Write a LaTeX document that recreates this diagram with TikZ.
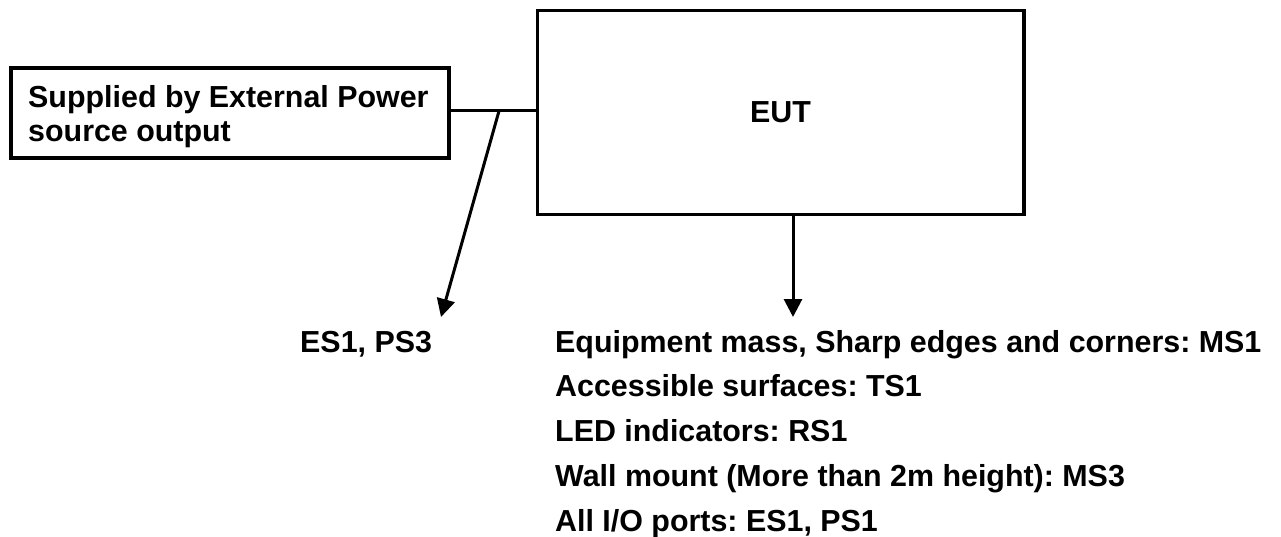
\documentclass[tikz,border=0pt]{standalone}
\usepackage{fontspec}
\setmainfont{Liberation Sans}
\usetikzlibrary{arrows.meta}
\tikzset{
  boxstyle/.style={draw=black, line width=3.5pt, rectangle, inner sep=0pt},
  txt/.style={inner sep=0pt, font=\fontsize{30.4}{34}\selectfont\bfseries\frenchspacing},
  conn/.style={draw=black, line width=3pt},
  arr/.style={draw=black, line width=3pt, -{Triangle[length=18pt,width=18pt]}}
}
\begin{document}
\begin{tikzpicture}[x=1pt,y=-1pt]
\useasboundingbox (0,0) rectangle (1281,537);
% boxes
\node[boxstyle, minimum width=438pt, minimum height=90pt] (src) at (230,113) {};
\node[txt, anchor=west, align=left] (srctxt) at (28,116.5) {Supplied by External Power\\source output};
\node[boxstyle, txt, minimum width=486.5pt, minimum height=204pt] (eut) at (780.5,112.5) {EUT};
% connector between boxes
\coordinate (j) at (499,111);
\draw[conn] (src.east |- j) -- (eut.west |- j);
\coordinate (t1) at (441,317);
\coordinate (t2) at (793,317);
\draw[arr] (j) -- (t1);
\draw[arr] (eut.south -| t2) -- (t2);
% labels
\node[txt, anchor=base west] (es) at (300,352) {ES1, PS3};
\node[txt, anchor=base west] (l1) at (555,352) {Equipment mass, Sharp edges and corners: MS1};
\node[txt, anchor=base west] (l2) at (555,396.8) {Accessible surfaces: TS1};
\node[txt, anchor=base west] (l3) at (555,441.6) {LED indicators: RS1};
\node[txt, anchor=base west] (l4) at (555,486.4) {Wall mount (More than 2m height): MS3};
\node[txt, anchor=base west] (l5) at (555,531.2) {All I/O ports: ES1, PS1};
\end{tikzpicture}
\end{document}
